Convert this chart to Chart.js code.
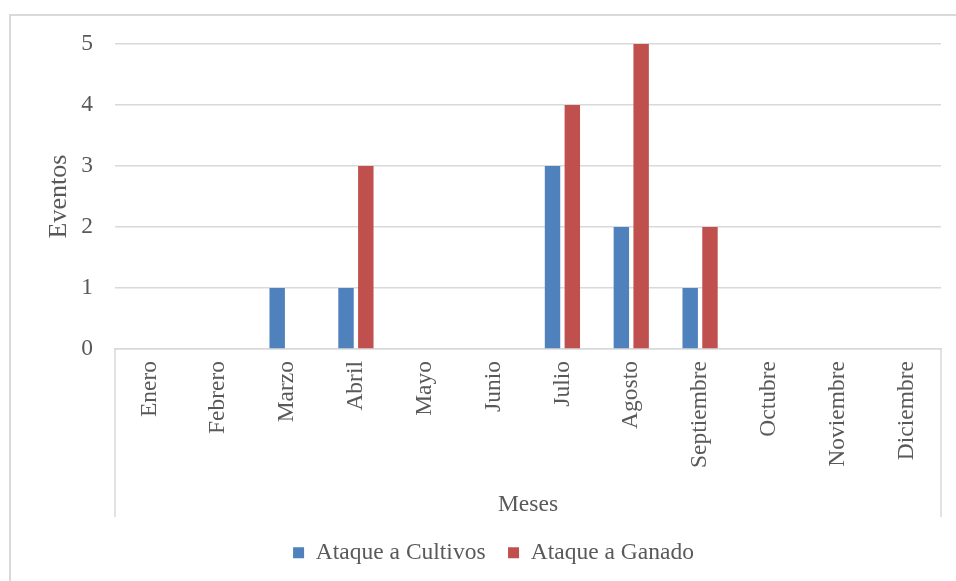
<!DOCTYPE html>
<html>
<head>
<meta charset="utf-8">
<script src="https://cdn.jsdelivr.net/npm/chart.js@4.4.1/dist/chart.umd.min.js"></script>
<style>
  html, body { margin: 0; padding: 0; background: #fff; overflow: hidden; }
  #frame {
    position: absolute; left: 9px; top: 14px; width: 1000px; height: 1000px;
    border: 2px solid #d9d9d9; box-sizing: border-box;
  }
  #wrap { position: absolute; left: 0; top: 0; width: 956px; height: 581px; }
</style>
</head>
<body>
<div id="frame"></div>
<div id="wrap"><canvas id="chart" width="956" height="581"></canvas></div>
<script>
const months = ['Enero', 'Febrero', 'Marzo', 'Abril', 'Mayo', 'Junio', 'Julio',
                'Agosto', 'Septiembre', 'Octubre', 'Noviembre', 'Diciembre'];
const cultivos = [0, 0, 1, 1, 0, 0, 3, 2, 1, 0, 0, 0];
const ganado   = [0, 0, 0, 3, 0, 0, 4, 5, 2, 0, 0, 0];
const yTicks   = [0, 1, 2, 3, 4, 5];

const FONT = 'Liberation Serif, "Times New Roman", serif';
const TEXT = '#595959';
const GRID = '#d9d9d9';
const PLOT_BOTTOM = 349;   // baseline of the value axis
const PAD_BOTTOM = 6.5;

// Side rules that frame the category labels below the axis
const sideRules = {
  id: 'sideRules',
  afterDraw(chart) {
    const { ctx, chartArea } = chart;
    ctx.save();
    ctx.strokeStyle = GRID;
    ctx.lineWidth = 1.5;
    [chartArea.left, chartArea.right].forEach(px => {
      ctx.beginPath();
      ctx.moveTo(px, chartArea.bottom);
      ctx.lineTo(px, chartArea.bottom + 168);
      ctx.stroke();
    });
    ctx.restore();
  }
};

new Chart(document.getElementById('chart'), {
  type: 'bar',
  data: {
    labels: months,
    datasets: [
      { label: 'Ataque a Cultivos', data: cultivos, backgroundColor: '#4f81bd',
        categoryPercentage: 0.575, barPercentage: 0.78 },
      { label: 'Ataque a Ganado', data: ganado, backgroundColor: '#c0504d',
        categoryPercentage: 0.575, barPercentage: 0.78 }
    ]
  },
  options: {
    responsive: false,
    animation: false,
    layout: { padding: { top: 44, left: 46, right: 15, bottom: PAD_BOTTOM } },
    plugins: {
      legend: {
        position: 'bottom',
        labels: {
          font: { family: FONT, size: 23.5 },
          color: TEXT,
          boxWidth: 11, boxHeight: 11,
          padding: 22.5
        }
      },
      tooltip: { enabled: false }
    },
    scales: {
      x: {
        grid: { display: false, drawTicks: false },
        border: { display: true, color: GRID, width: 1.5 },
        ticks: {
          font: { family: FONT, size: 23.5 }, color: TEXT,
          minRotation: 90, maxRotation: 90, padding: 12, autoSkip: false
        },
        title: {
          display: true, text: 'Meses',
          font: { family: FONT, size: 23.5, lineHeight: 1 }, color: TEXT,
          padding: { top: 0, bottom: 2 }
        },
        afterFit(s) {
          const lg = s.chart.legend ? s.chart.legend.height : 71;
          s.height = s.chart.height - PAD_BOTTOM - lg - PLOT_BOTTOM;
        }
      },
      y: {
        min: 0, max: 5,
        afterBuildTicks(s) { s.ticks = yTicks.map(v => ({ value: v })); },
        grid: { color: GRID, lineWidth: 1.5, drawTicks: false },
        border: { display: false },
        ticks: {
          font: { family: FONT, size: 23.5 }, color: TEXT, padding: 22
        },
        title: {
          display: true, text: 'Eventos',
          font: { family: FONT, size: 26, lineHeight: 1 }, color: TEXT,
          padding: { top: 0.5, bottom: 0 }
        },
        afterFit(s) { s.width = 69; }
      }
    }
  },
  plugins: [sideRules]
});
</script>
</body>
</html>
